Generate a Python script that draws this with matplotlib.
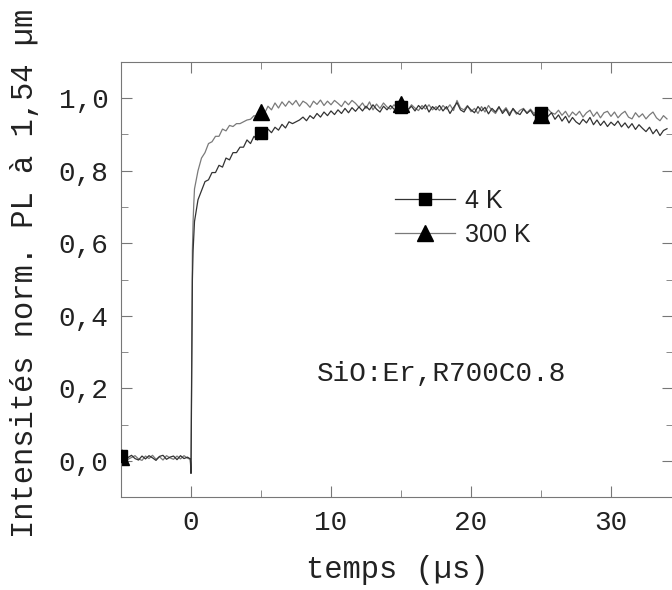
import numpy as np
import matplotlib
matplotlib.use("Agg")
import matplotlib.pyplot as plt
from matplotlib.ticker import MultipleLocator, FuncFormatter

# time axis (µs): baseline, fast rise, then 0.25 µs steps
t_base = np.arange(-5.0, 0.0, 0.25)
t_rise = [-0.05, 0.0, 0.05, 0.1, 0.15, 0.2]
t_decay = np.arange(0.25, 34.01, 0.25)
t_us = np.concatenate([t_base, t_rise, t_decay])

pl_4k = [
    0.012, 0.004, 0.009, 0.015, 0.006, 0.002, 0.013, 0.005, 0.014, 0.008,
    0.001, 0.012, 0.015, 0.004, 0.010, 0.013, 0.003, 0.014, 0.006, 0.010,
    0.005, -0.035, 0.25, 0.50, 0.58, 0.62,
    0.66, 0.72, 0.745, 0.77, 0.775, 0.795, 0.795, 0.815,
    0.81, 0.835, 0.83, 0.85, 0.85, 0.865, 0.865, 0.885,
    0.875, 0.895, 0.885, 0.905, 0.895, 0.915, 0.905, 0.92,
    0.912, 0.928, 0.918, 0.935, 0.93, 0.935, 0.94, 0.948,
    0.938, 0.952, 0.944, 0.958, 0.948, 0.962, 0.952, 0.965,
    0.955, 0.968, 0.958, 0.972, 0.96, 0.974, 0.964, 0.976,
    0.965, 0.978, 0.968, 0.982, 0.97, 0.962, 0.978, 0.968,
    0.98, 0.97, 0.965, 0.975, 0.982, 0.968, 0.978, 0.965,
    0.98, 0.97, 0.982, 0.962, 0.977, 0.968, 0.98, 0.965,
    0.977, 0.958, 0.974, 0.988, 0.968, 0.962, 0.978, 0.968,
    0.96, 0.977, 0.965, 0.975, 0.957, 0.972, 0.962, 0.977,
    0.958, 0.97, 0.952, 0.972, 0.96, 0.955, 0.97, 0.958,
    0.967, 0.952, 0.964, 0.958, 0.953, 0.95, 0.96, 0.942,
    0.954, 0.937, 0.95, 0.932, 0.947, 0.935, 0.928, 0.942,
    0.932, 0.947, 0.927, 0.94, 0.925, 0.937, 0.922, 0.934,
    0.925, 0.937, 0.921, 0.932, 0.918, 0.93, 0.914, 0.927,
    0.917, 0.908, 0.92, 0.902, 0.914, 0.897, 0.911, 0.916,
]

pl_300k = [
    0.010, 0.016, 0.004, 0.009, 0.014, 0.005, 0.001, 0.013, 0.006, 0.015,
    0.004, 0.011, 0.002, 0.014, 0.008, 0.004, 0.013, 0.005, 0.014, 0.007,
    0.004, -0.02, 0.30, 0.58, 0.66, 0.71,
    0.75, 0.80, 0.835, 0.85, 0.875, 0.88, 0.895, 0.895,
    0.915, 0.91, 0.925, 0.922, 0.93, 0.93, 0.935, 0.94,
    0.942, 0.952, 0.948, 0.963, 0.958, 0.978, 0.968, 0.987,
    0.973, 0.99, 0.978, 0.992, 0.982, 0.994, 0.978, 0.992,
    0.986, 0.975, 0.992, 0.983, 0.995, 0.98, 0.992, 0.982,
    0.994, 0.986, 0.977, 0.992, 0.982, 0.994, 0.986, 0.975,
    0.987, 0.972, 0.99, 0.968, 0.984, 0.972, 0.987, 0.976,
    0.97, 0.982, 0.973, 0.985, 0.976, 0.968, 0.982, 0.973,
    0.966, 0.98, 0.97, 0.982, 0.968, 0.977, 0.966, 0.98,
    0.97, 0.982, 0.966, 0.994, 0.973, 0.968, 0.98, 0.963,
    0.972, 0.958, 0.977, 0.962, 0.98, 0.966, 0.958, 0.974,
    0.963, 0.974, 0.958, 0.97, 0.956, 0.967, 0.972, 0.96,
    0.97, 0.958, 0.967, 0.955, 0.958, 0.97, 0.96, 0.956,
    0.967, 0.953, 0.964, 0.948, 0.962, 0.953, 0.964, 0.948,
    0.96, 0.967, 0.95, 0.962, 0.946, 0.96, 0.964, 0.95,
    0.962, 0.946, 0.957, 0.964, 0.948, 0.943, 0.96, 0.948,
    0.957, 0.943, 0.954, 0.962, 0.946, 0.938, 0.952, 0.943,
]

marker_times = [-5, 5, 15, 25]
labels = ["4 K", "300 K"]
sample_text = "SiO:Er,R700C0.8"

mono = "Liberation Mono"
ink = "#222222"
marks = [int(np.argmin(np.abs(t_us - m))) for m in marker_times]

fig = plt.figure(figsize=(6.72, 5.90), dpi=100)
ax = fig.add_axes([121 / 672, 93 / 590, 552 / 672, 435 / 590])

ax.plot(t_us, pl_300k, color="#7a7a7a", lw=0.9, marker="^", ms=11,
        mfc="black", mec="black", markevery=marks, label=labels[1], zorder=2)
ax.plot(t_us, pl_4k, color="#333333", lw=0.9, marker="s", ms=9,
        mfc="black", mec="black", markevery=marks, label=labels[0], zorder=3)

ax.set_xlim(-5, 34.43)
ax.set_ylim(-0.1, 1.1)

ax.xaxis.set_major_locator(MultipleLocator(10))
ax.xaxis.set_minor_locator(MultipleLocator(5))
ax.yaxis.set_major_locator(MultipleLocator(0.2))
ax.yaxis.set_minor_locator(MultipleLocator(0.1))
ax.yaxis.set_major_formatter(FuncFormatter(lambda v, p: f"{v:.1f}".replace(".", ",")))

ax.tick_params(which="both", direction="in", top=True, right=True,
               color="#777777", labelsize=20, labelcolor=ink, pad=9)
ax.tick_params(which="major", length=8)
ax.tick_params(which="minor", length=5)
for lab in ax.get_xticklabels() + ax.get_yticklabels():
    lab.set_family(mono)
for s in ax.spines.values():
    s.set_color("#777777")

ax.set_xlabel("temps (µs)", family=mono, fontsize=22, color=ink, labelpad=14)
ax.set_ylabel("Intensités norm. PL à 1,54 µm", family=mono, fontsize=22,
              color=ink)
ax.yaxis.set_label_coords(-0.147, 0.513)

ax.text(17.9, 0.24, sample_text, family=mono, fontsize=20, color=ink,
        ha="center", va="center")

h, l = ax.get_legend_handles_labels()
leg = ax.legend(h[::-1], l[::-1], loc="upper left", bbox_to_anchor=(0.455, 0.76),
                frameon=False, prop={"family": "Liberation Sans", "size": 18},
                handlelength=2.4, handletextpad=0.4, labelspacing=0.4)
for txt in leg.get_texts():
    txt.set_color(ink)

fig.savefig("out.png", dpi=100)
